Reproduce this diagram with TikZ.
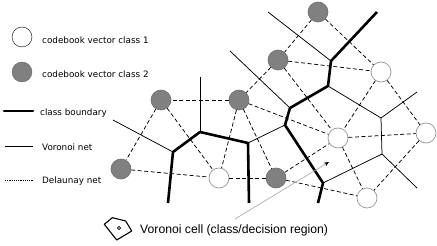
\documentclass[tikz,border=0pt]{standalone}
\usepackage{fontspec}
\setmainfont{DejaVu Sans}
\newfontfamily\arialfont{Liberation Sans}
\usetikzlibrary{arrows.meta}
\definecolor{classgray}{RGB}{128,128,128}
\definecolor{rimgray}{RGB}{150,150,150}
\definecolor{pointergray}{RGB}{175,175,175}

\begin{document}
\begin{tikzpicture}[x=1pt, y=-1pt, >=Stealth,
  whitevec/.style={circle, draw=rimgray, fill=white, minimum size=20pt, inner sep=0pt, line width=0.7pt},
  grayvec/.style={circle, draw=classgray!85!black, fill=classgray, minimum size=20pt, inner sep=0pt, line width=0.6pt},
  boundary/.style={line width=2.6pt, line join=round},
  voronoi/.style={line width=0.75pt},
  delaunay/.style={line width=0.75pt, dash pattern=on 4pt off 2.5pt},
  legendtext/.style={anchor=base west, inner sep=0pt, font=\fontsize{8.8}{10}\selectfont}]
  \useasboundingbox (0,0) rectangle (437,246);

  % legend
  \node[circle, draw, fill=white, minimum size=20pt, inner sep=0pt] (keyone) at (22,37) {};
  \node[legendtext] (keyonetxt) at (42,44) {codebook vector class 1};
  \node[circle, draw=classgray!80!black, fill=classgray, minimum size=20pt, inner sep=0pt] (keytwo) at (22,72) {};
  \node[legendtext] (keytwotxt) at (42,78) {codebook vector class 2};
  \draw[boundary, line cap=round] (4,111) -- (33,111);
  \node[legendtext] (keyboundary) at (40,115.5) {class boundary};
  \draw[voronoi] (5,146) -- (33,146);
  \node[legendtext] (keyvoronoi) at (42,150) {Voronoi net};
  \draw[line width=0.7pt, dash pattern=on 1.2pt off 1pt] (5,180) -- (33,180);
  \node[legendtext] (keydelaunay) at (42,183.5) {Delaunay net};

  % Voronoi vertices and free ends
  \coordinate (v1) at (113,120);
  \coordinate (v2) at (173,152);
  \coordinate (v3) at (168,203);
  \coordinate (v4) at (200,132);
  \coordinate (v5) at (200,77);
  \coordinate (v6) at (248,143);
  \coordinate (v7) at (249,203);
  \coordinate (v8) at (285,125);
  \coordinate (v9) at (290,108);
  \coordinate (v10) at (230,51);
  \coordinate (v11) at (328,86);
  \coordinate (v12) at (331,61);
  \coordinate (v13) at (268,12);
  \coordinate (v14) at (377,12);
  \coordinate (v15) at (381,118);
  \coordinate (v16) at (417,92);
  \coordinate (v17) at (382,154);
  \coordinate (v18) at (417,188);
  \coordinate (v19) at (323,183);
  \coordinate (v20) at (318,203);

  % Voronoi net
  \draw[voronoi] (v1) -- (v2);
  \draw[voronoi] (v5) -- (v4);
  \draw[voronoi] (v6) -- (v8);
  \draw[voronoi] (v10) -- (v9);
  \draw[voronoi] (v13) -- (v12);
  \draw[voronoi] (v11) -- (v15) -- (v16);
  \draw[voronoi] (v15) -- (v17) -- (v18);
  \draw[voronoi] (v17) -- (v19);

  % class boundaries
  \draw[boundary] (v3) -- (v2) -- (v4) -- (v6) -- (v7);
  \draw[boundary] (v14) -- (v12) -- (v11) -- (v9) -- (v8) -- (v19) -- (v20);

  % codebook vectors
  \node[grayvec] (g1) at (318,12) {};
  \node[grayvec] (g2) at (278,60) {};
  \node[grayvec] (g3) at (239,100) {};
  \node[grayvec] (g4) at (161,100) {};
  \node[grayvec] (g5) at (121,169) {};
  \node[grayvec] (g6) at (276,178) {};
  \node[whitevec] (w1) at (219,178) {};
  \node[whitevec] (w2) at (381,72) {};
  \node[whitevec] (w3) at (338,138) {};
  \node[whitevec] (w4) at (426,133) {};
  \node[whitevec] (w5) at (367,198) {};

  % Delaunay net
  \foreach \a/\b in {g1/g2, g1/w2, g2/w2, g2/g3, g2/w3, g3/g4, g3/w1, g3/g6, g3/w3,
                     g4/g5, g4/w1, g5/w1, w1/g6, g6/w3, g6/w5, w3/w5, w3/w4,
                     w2/w3, w2/w4, w4/w5}
    \draw[delaunay] (\a) -- (\b);

  % Voronoi cell
  \draw[line width=1.1pt, line join=round] (104.3,224.3) -- (112.3,217.7) -- (125.7,221) -- (131.7,231) -- (116.7,240) -- cycle;
  \draw[line width=0.7pt] (119,228) circle (1.6);
  \node[anchor=base west, inner sep=0pt, font=\arialfont\fontsize{12.2}{14}\selectfont] (celltxt) at (140,233) {Voronoi cell (class/decision region)};
  \coordinate (ptrstart) at (235,219);
  \coordinate (ptrend) at (329,162);
  \draw[draw=pointergray, line width=0.7pt, -{Stealth[black, length=5pt, width=4pt]}] (ptrstart) -- (ptrend);
\end{tikzpicture}
\end{document}
